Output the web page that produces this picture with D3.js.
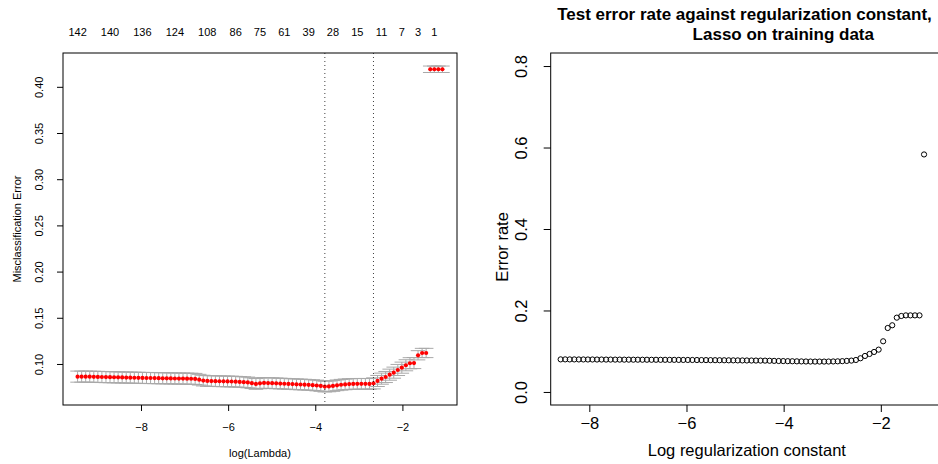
<!DOCTYPE html>
<html>
<head>
<meta charset="utf-8">
<script src="https://cdn.jsdelivr.net/npm/d3@7"></script>
<style>
  body { margin: 0; background: #fff; }
  svg { display: block; font-family: "Liberation Sans", Arial, Helvetica, sans-serif; }
</style>
</head>
<body>
<div id="chart"></div>
<script>
// cross-validation curve (left)
let logLambda = [
  -9.455, -9.362, -9.269, -9.176, -9.083, -8.990, -8.897, -8.804, -8.711, -8.618,
  -8.525, -8.432, -8.339, -8.246, -8.153, -8.060, -7.967, -7.874, -7.780, -7.687,
  -7.594, -7.501, -7.408, -7.315, -7.222, -7.129, -7.036, -6.943, -6.850, -6.757,
  -6.664, -6.571, -6.478, -6.385, -6.292, -6.199, -6.106, -6.013, -5.920, -5.827,
  -5.734, -5.641, -5.548, -5.455, -5.362, -5.269, -5.176, -5.083, -4.990, -4.897,
  -4.804, -4.711, -4.617, -4.524, -4.431, -4.338, -4.245, -4.152, -4.059, -3.966,
  -3.873, -3.780, -3.687, -3.594, -3.501, -3.408, -3.315, -3.222, -3.129, -3.036,
  -2.943, -2.850, -2.757, -2.664, -2.571, -2.478, -2.385, -2.292, -2.199, -2.106,
  -2.013, -1.920, -1.827, -1.734, -1.641, -1.548, -1.455, -1.361, -1.268, -1.175,
  -1.082
]
let cvm = [
  0.0863, 0.0863, 0.0863, 0.0862, 0.0861, 0.0860, 0.0859, 0.0858, 0.0857, 0.0856,
  0.0855, 0.0854, 0.0853, 0.0852, 0.0851, 0.0850, 0.0849, 0.0848, 0.0848, 0.0847,
  0.0846, 0.0845, 0.0845, 0.0844, 0.0843, 0.0842, 0.0842, 0.0841, 0.0840, 0.0838,
  0.0830, 0.0820, 0.0816, 0.0815, 0.0814, 0.0813, 0.0812, 0.0811, 0.0810, 0.0808,
  0.0806, 0.0803, 0.0800, 0.0792, 0.0784, 0.0790, 0.0795, 0.0793, 0.0792, 0.0790,
  0.0788, 0.0786, 0.0784, 0.0782, 0.0780, 0.0778, 0.0776, 0.0774, 0.0771, 0.0767,
  0.0762, 0.0755, 0.0757, 0.0762, 0.0769, 0.0775, 0.0779, 0.0782, 0.0784, 0.0785,
  0.0785, 0.0785, 0.0784, 0.0790, 0.0816, 0.0841, 0.0859, 0.0884, 0.0906, 0.0935,
  0.0960, 0.0986, 0.1008, 0.1010, 0.1094, 0.1119, 0.1119, 0.4190, 0.4190, 0.4190,
  0.4190
]
let cvsd = [
  0.0060, 0.0060, 0.0060, 0.0060, 0.0060, 0.0060, 0.0060, 0.0060, 0.0060, 0.0060,
  0.0060, 0.0060, 0.0060, 0.0060, 0.0060, 0.0060, 0.0060, 0.0060, 0.0060, 0.0060,
  0.0060, 0.0060, 0.0060, 0.0060, 0.0060, 0.0060, 0.0060, 0.0060, 0.0060, 0.0060,
  0.0058, 0.0058, 0.0058, 0.0058, 0.0058, 0.0058, 0.0058, 0.0058, 0.0058, 0.0058,
  0.0058, 0.0058, 0.0058, 0.0058, 0.0058, 0.0058, 0.0058, 0.0058, 0.0058, 0.0058,
  0.0058, 0.0058, 0.0058, 0.0058, 0.0058, 0.0058, 0.0058, 0.0058, 0.0058, 0.0058,
  0.0058, 0.0058, 0.0058, 0.0058, 0.0058, 0.0058, 0.0058, 0.0058, 0.0058, 0.0058,
  0.0058, 0.0058, 0.0058, 0.0060, 0.0060, 0.0060, 0.0060, 0.0060, 0.0060, 0.0060,
  0.0060, 0.0060, 0.0060, 0.0060, 0.0050, 0.0050, 0.0050, 0.0035, 0.0035, 0.0035,
  0.0035
]
let nzeroLabels = ['142', '140', '136', '124', '108', '86', '75', '61', '39', '28', '15', '11', '7', '3', '1']
let nzeroAt = [-9.455, -8.711, -7.967, -7.222, -6.478, -5.827, -5.269, -4.711, -4.152, -3.594, -3.036, -2.478, -2.013, -1.641, -1.268]
let lambdaMinLog = -3.780,
    lambda1seLog = -2.664
let leftXTicks = [-8, -6, -4, -2]
let leftYTicks = [0.10, 0.15, 0.20, 0.25, 0.30, 0.35, 0.40]

// test error (right)
let logLambdaTest = [
  -8.590, -8.497, -8.403, -8.310, -8.216, -8.123, -8.029, -7.936, -7.842, -7.749,
  -7.655, -7.562, -7.468, -7.375, -7.281, -7.188, -7.094, -7.001, -6.907, -6.814,
  -6.720, -6.627, -6.533, -6.440, -6.346, -6.253, -6.159, -6.066, -5.972, -5.879,
  -5.785, -5.692, -5.598, -5.505, -5.411, -5.318, -5.224, -5.131, -5.037, -4.944,
  -4.850, -4.757, -4.663, -4.570, -4.476, -4.383, -4.289, -4.196, -4.102, -4.009,
  -3.915, -3.822, -3.728, -3.635, -3.541, -3.448, -3.354, -3.261, -3.167, -3.074,
  -2.980, -2.887, -2.793, -2.700, -2.606, -2.513, -2.419, -2.326, -2.232, -2.139,
  -2.045, -1.952, -1.858, -1.765, -1.671, -1.578, -1.484, -1.391, -1.297, -1.204,
  -1.110
]
let testError = [
  0.0800, 0.0800, 0.0799, 0.0799, 0.0798, 0.0798, 0.0797, 0.0797, 0.0796, 0.0796,
  0.0795, 0.0795, 0.0794, 0.0794, 0.0793, 0.0793, 0.0792, 0.0792, 0.0791, 0.0791,
  0.0790, 0.0790, 0.0789, 0.0789, 0.0788, 0.0788, 0.0787, 0.0786, 0.0786, 0.0785,
  0.0784, 0.0783, 0.0782, 0.0781, 0.0780, 0.0779, 0.0778, 0.0777, 0.0776, 0.0775,
  0.0774, 0.0773, 0.0772, 0.0771, 0.0770, 0.0769, 0.0766, 0.0763, 0.0760, 0.0758,
  0.0756, 0.0754, 0.0752, 0.0750, 0.0748, 0.0747, 0.0746, 0.0746, 0.0746, 0.0747,
  0.0749, 0.0752, 0.0756, 0.0762, 0.0770, 0.0785, 0.0827, 0.0884, 0.0933, 0.0982,
  0.1039, 0.1244, 0.1570, 0.1637, 0.1824, 0.1865, 0.1880, 0.1880, 0.1880, 0.1880,
  0.5830
]
let rightXTicks = [-8, -6, -4, -2]
let rightYTicks = [0.0, 0.2, 0.4, 0.6, 0.8]

const W = 938, H = 464
const minus = s => s.replace('-', '\u2212')

// R-style axis range: data extent padded by 4%
let pad4 = ext => {
    let d = (ext[1] - ext[0]) * 0.04
    return [ext[0] - d, ext[1] + d]
}

let svg = d3.select('#chart')
    .append('svg')
    .attr('width', W)
    .attr('height', H)

//#region left panel
let lBox = { x0: 63, x1: 457, y0: 53, y1: 405 }
let cvData = logLambda.map((l, i) => ({ l: l, m: cvm[i], lo: cvm[i] - cvsd[i], up: cvm[i] + cvsd[i] }))

let xL = d3.scaleLinear()
    .domain(pad4(d3.extent(logLambda)))
    .range([lBox.x0, lBox.x1])
let yL = d3.scaleLinear()
    .domain(pad4([d3.min(cvData, d => d.lo), d3.max(cvData, d => d.up)]))
    .range([lBox.y1, lBox.y0])

let left = svg.append('g').attr('font-size', 11).attr('fill', '#000')

// error bars, cap half-width = 2% of x range
let barw = (d3.max(logLambda) - d3.min(logLambda)) * 0.02
let bars = left.append('g')
    .attr('stroke', '#a9a9a9')
    .attr('stroke-width', 1)
    .attr('fill', 'none')
bars.selectAll('path')
    .data(cvData)
    .enter()
    .append('path')
    .attr('d', d => {
        let x = xL(d.l), xa = xL(d.l - barw), xb = xL(d.l + barw)
        return `M${x},${yL(d.up)}V${yL(d.lo)}M${xa},${yL(d.up)}H${xb}M${xa},${yL(d.lo)}H${xb}`
    })

left.append('g')
    .selectAll('circle')
    .data(cvData)
    .enter()
    .append('circle')
    .attr('cx', d => xL(d.l))
    .attr('cy', d => yL(d.m))
    .attr('r', 2.1)
    .attr('fill', '#ff0000')

// lambda.min / lambda.1se
left.selectAll('line.vline')
    .data([lambdaMinLog, lambda1seLog])
    .enter()
    .append('line')
    .attr('class', 'vline')
    .attr('x1', d => xL(d))
    .attr('x2', d => xL(d))
    .attr('y1', lBox.y0)
    .attr('y2', lBox.y1)
    .attr('stroke', '#000')
    .attr('stroke-width', 1)
    .attr('stroke-dasharray', '1,3')
    .attr('opacity', 0.75)

left.append('rect')
    .attr('x', lBox.x0)
    .attr('y', lBox.y0)
    .attr('width', lBox.x1 - lBox.x0)
    .attr('height', lBox.y1 - lBox.y0)
    .attr('fill', 'none')
    .attr('stroke', '#000')

let lxAxis = d3.axisBottom(xL)
    .tickValues(leftXTicks)
    .tickSize(6)
    .tickPadding(14)
    .tickFormat(d => minus(String(d)))
let lx = left.append('g')
    .attr('transform', `translate(0,${lBox.y1})`)
    .call(lxAxis)
lx.select('.domain').remove()
lx.selectAll('text').attr('font-size', 11).attr('font-family', null).attr('dy', null).attr('y', 26)

let ly = left.append('g')
    .attr('transform', `translate(${lBox.x0},0)`)
    .call(d3.axisLeft(yL).tickValues(leftYTicks).tickSize(6).tickFormat(d3.format('.2f')))
ly.select('.domain').remove()
ly.selectAll('text')
    .attr('font-size', 11)
    .attr('font-family', null)
    .attr('x', null)
    .attr('dy', null)
    .attr('text-anchor', 'middle')
    .attr('transform', 'translate(-20,0) rotate(-90)')

left.selectAll('text.nz')
    .data(nzeroLabels)
    .enter()
    .append('text')
    .attr('class', 'nz')
    .attr('x', (d, i) => xL(nzeroAt[i]))
    .attr('y', 36)
    .attr('text-anchor', 'middle')
    .text(d => d)

left.append('text')
    .attr('x', (lBox.x0 + lBox.x1) / 2)
    .attr('y', 457)
    .attr('text-anchor', 'middle')
    .text('log(Lambda)')
left.append('text')
    .attr('transform', `translate(20.5,${(lBox.y0 + lBox.y1) / 2}) rotate(-90)`)
    .attr('text-anchor', 'middle')
    .text('Misclassification Error')
//#endregion

//#region right panel
let rBox = { x0: 550.7, x1: 943, y0: 53, y1: 405 }
let testData = logLambdaTest.map((l, i) => ({ l: l, e: testError[i] }))

let xR = d3.scaleLinear()
    .domain([-8.795, -0.72])
    .range([rBox.x0, rBox.x1])
let yR = d3.scaleLinear()
    .domain(pad4([0, 0.8]))
    .range([rBox.y1, rBox.y0])

let right = svg.append('g').attr('font-size', 16.5).attr('fill', '#000')

right.append('g')
    .selectAll('circle')
    .data(testData)
    .enter()
    .append('circle')
    .attr('cx', d => xR(d.l))
    .attr('cy', d => yR(d.e))
    .attr('r', 2.6)
    .attr('fill', 'none')
    .attr('stroke', '#000')
    .attr('stroke-width', 1)

right.append('rect')
    .attr('x', rBox.x0)
    .attr('y', rBox.y0)
    .attr('width', rBox.x1 - rBox.x0)
    .attr('height', rBox.y1 - rBox.y0)
    .attr('fill', 'none')
    .attr('stroke', '#000')

let rx = right.append('g')
    .attr('transform', `translate(0,${rBox.y1})`)
    .call(d3.axisBottom(xR).tickValues(rightXTicks).tickSize(7).tickFormat(d => minus(String(d))))
rx.select('.domain').remove()
rx.selectAll('text').attr('font-size', 16.5).attr('font-family', null).attr('dy', null).attr('y', 24)

let ry = right.append('g')
    .attr('transform', `translate(${rBox.x0},0)`)
    .call(d3.axisLeft(yR).tickValues(rightYTicks).tickSize(7).tickFormat(d3.format('.1f')))
ry.select('.domain').remove()
ry.selectAll('text')
    .attr('font-size', 16.5)
    .attr('font-family', null)
    .attr('x', null)
    .attr('dy', null)
    .attr('text-anchor', 'middle')
    .attr('transform', 'translate(-23.5,0) rotate(-90)')

right.append('text')
    .attr('x', (rBox.x0 + rBox.x1) / 2)
    .attr('y', 456)
    .attr('text-anchor', 'middle')
    .text('Log regularization constant')
right.append('text')
    .attr('transform', `translate(508,247) rotate(-90)`)
    .attr('text-anchor', 'middle')
    .text('Error rate')

let title = right.append('g')
    .attr('font-weight', 'bold')
    .attr('font-size', 17)
    .attr('text-anchor', 'middle')
title.append('text')
    .attr('x', 744.5)
    .attr('y', 19.5)
    .text('Test error rate against regularization constant,')
title.append('text')
    .attr('x', 783.3)
    .attr('y', 39.5)
    .text('Lasso on training data')
//#endregion
</script>
</body>
</html>
